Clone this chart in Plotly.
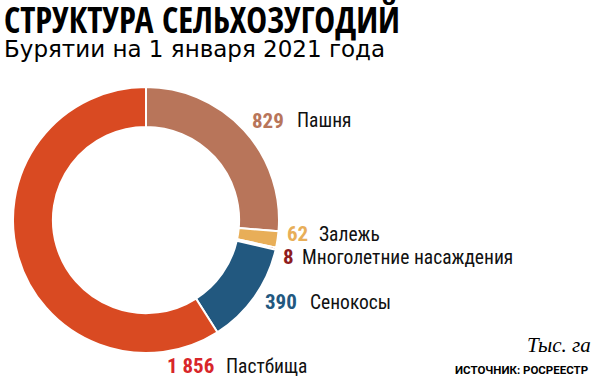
import plotly.graph_objects as go

categories = ["Пашня", "Залежь", "Многолетние насаждения", "Сенокосы", "Пастбища"]
values = [829, 62, 8, 390, 1856]
value_labels = ["829", "62", "8", "390", "1 856"]
colors = ["#b8755a", "#e8ae58", "#8e1c1e", "#22587f", "#d94a22"]
label_colors = ["#b8755a", "#e8ae58", "#8e1c1e", "#22587f", "#d8262a"]

W, H = 597, 379
COND = "Roboto Condensed, DejaVu Sans Condensed, sans-serif"

fig = go.Figure()
fig.add_trace(go.Pie(
    labels=categories, values=values, sort=False, direction="clockwise",
    rotation=0, hole=0.70,
    marker=dict(colors=colors, line=dict(color="white", width=2)),
    textinfo="none", hoverinfo="label+value", showlegend=False,
    domain=dict(x=[13 / W, 279 / W], y=[1 - 353 / H, 1 - 87 / H]),
))

# (number x, name x, y center) in pixels
label_pos = [(250, 295, 121), (285, 317, 234), (281, 300, 257), (263, 308, 302), (165, 224, 366)]
for cat, v, c, (nx, tx, ly) in zip(categories, value_labels, label_colors, label_pos):
    fig.add_annotation(
        x=nx / W, y=1 - ly / H, xref="paper", yref="paper",
        xanchor="left", yanchor="middle", showarrow=False,
        text=f"<b>{v}</b>", font=dict(family=COND, size=21, color=c),
    )
    fig.add_annotation(
        x=tx / W, y=1 - ly / H, xref="paper", yref="paper",
        xanchor="left", yanchor="middle", showarrow=False,
        text=cat, font=dict(family=COND, size=19.5, color="#111111"),
    )

fig.add_annotation(
    x=2 / W, y=1 - 19 / H, xref="paper", yref="paper", xanchor="left", yanchor="middle",
    showarrow=False, text="<b>СТРУКТУРА СЕЛЬХОЗУГОДИЙ</b>",
    font=dict(family="Open Sans Condensed, Roboto Condensed, sans-serif", size=35, color="#000000"),
)
fig.add_annotation(
    x=2 / W, y=1 - 49 / H, xref="paper", yref="paper", xanchor="left", yanchor="middle",
    showarrow=False, text="Бурятии на 1 января 2021 года",
    font=dict(family="DejaVu Sans, sans-serif", size=23, color="#000000"),
)
fig.add_annotation(
    x=593 / W, y=1 - 345 / H, xref="paper", yref="paper", xanchor="right", yanchor="middle",
    showarrow=False, text="<i>Тыс. га</i>",
    font=dict(family="Liberation Serif, serif", size=21, color="#000000"),
)
fig.add_annotation(
    x=453 / W, y=1 - 370 / H, xref="paper", yref="paper", xanchor="left", yanchor="middle",
    showarrow=False, text="<b>ИСТОЧНИК: РОСРЕЕСТР</b>",
    font=dict(family="Roboto, sans-serif", size=11.5, color="#000000"),
)

fig.update_layout(
    width=W, height=H, margin=dict(l=0, r=0, t=0, b=0),
    paper_bgcolor="white", plot_bgcolor="white",
)
fig.write_html("out.html", config={"displayModeBar": False},
               post_script="document.body.style.margin='0';")
